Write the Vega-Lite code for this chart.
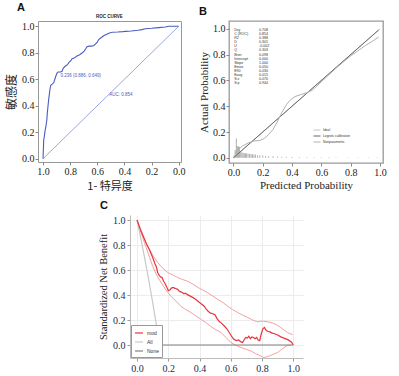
{
  "$schema": "https://vega.github.io/schema/vega-lite/v6.json",
  "background": "white",
  "padding": {"left": 5, "top": 1, "right": 0, "bottom": 0},
  "config": {
    "view": {"stroke": null},
    "axis": {"grid": false, "tickCount": 10, "labelOverlap": false, "labelFont": "Liberation Serif", "labelFontSize": 10, "labelColor": "#222", "titleFont": "Liberation Serif", "titleFontSize": 11, "titleFontWeight": "normal", "titleColor": "#222", "tickColor": "#888", "tickSize": 3, "labelPadding": 1, "domain": false},
    "title": {"font": "Liberation Sans", "fontSize": 11, "fontWeight": "bold", "anchor": "start", "frame": "group", "color": "#111"}
  },
  "resolve": {"scale": {"color": "independent"}, "legend": {"color": "independent"}},
  "vconcat": [
    {
      "resolve": {"scale": {"color": "independent"}, "legend": {"color": "independent"}},
      "hconcat": [
        {
          "width": 143, "height": 141,
          "view": {"stroke": "#999", "strokeWidth": 1},
          "title": {"text": "A", "dx": -21, "offset": 1},
          "layer": [
            {
              "data": {"values": [
                {"x": 1.0, "y": 0.0}, {"x": 0.997, "y": 0.08}, {"x": 0.995, "y": 0.14}, {"x": 0.99, "y": 0.17}, {"x": 0.985, "y": 0.21}, {"x": 0.978, "y": 0.25}, {"x": 0.972, "y": 0.29}, {"x": 0.968, "y": 0.35}, {"x": 0.963, "y": 0.40}, {"x": 0.958, "y": 0.45}, {"x": 0.953, "y": 0.49}, {"x": 0.948, "y": 0.53}, {"x": 0.943, "y": 0.555}, {"x": 0.93, "y": 0.565}, {"x": 0.921, "y": 0.575}, {"x": 0.913, "y": 0.60}, {"x": 0.905, "y": 0.625}, {"x": 0.898, "y": 0.645}, {"x": 0.889, "y": 0.655}, {"x": 0.87, "y": 0.655}, {"x": 0.86, "y": 0.66}, {"x": 0.85, "y": 0.685}, {"x": 0.835, "y": 0.70}, {"x": 0.82, "y": 0.71}, {"x": 0.81, "y": 0.725}, {"x": 0.795, "y": 0.74}, {"x": 0.786, "y": 0.755}, {"x": 0.77, "y": 0.76}, {"x": 0.75, "y": 0.775}, {"x": 0.73, "y": 0.785}, {"x": 0.71, "y": 0.80}, {"x": 0.695, "y": 0.815}, {"x": 0.685, "y": 0.83}, {"x": 0.676, "y": 0.845}, {"x": 0.66, "y": 0.85}, {"x": 0.64, "y": 0.85}, {"x": 0.625, "y": 0.855}, {"x": 0.614, "y": 0.865}, {"x": 0.6, "y": 0.88}, {"x": 0.59, "y": 0.90}, {"x": 0.57, "y": 0.915}, {"x": 0.55, "y": 0.93}, {"x": 0.53, "y": 0.94}, {"x": 0.51, "y": 0.95}, {"x": 0.49, "y": 0.955}, {"x": 0.45, "y": 0.957}, {"x": 0.41, "y": 0.96}, {"x": 0.39, "y": 0.962}, {"x": 0.35, "y": 0.965}, {"x": 0.3, "y": 0.97}, {"x": 0.27, "y": 0.975}, {"x": 0.246, "y": 0.982}, {"x": 0.2, "y": 0.985}, {"x": 0.147, "y": 0.99}, {"x": 0.1, "y": 0.995}, {"x": 0.074, "y": 1.0}, {"x": 0.0, "y": 1.0}
              ]},
              "mark": {"type": "line", "color": "#4a5cc0", "strokeWidth": 1.1},
              "encoding": {
                "x": {"field": "x", "type": "quantitative", "scale": {"domain": [-0.017, 1.037], "reverse": true, "nice": false, "zero": false}, "axis": {"values": [0, 0.2, 0.4, 0.6, 0.8, 1.0], "tickCount": 10, "format": ".1f", "title": "1- 特异度", "titleFont": "Noto Sans CJK SC", "titleFontSize": 11, "titlePadding": 4}},
                "y": {"field": "y", "type": "quantitative", "scale": {"domain": [-0.025, 1.04], "nice": false, "zero": false}, "axis": {"values": [0, 0.2, 0.4, 0.6, 0.8, 1.0], "tickCount": 10, "format": ".1f", "title": "敏感度", "titleFont": "Noto Sans CJK SC", "titleFontSize": 12, "titlePadding": 3}}
              }
            },
            {
              "data": {"values": [{"x": 1.0, "y": 0.0}, {"x": 0.0, "y": 1.0}]},
              "mark": {"type": "line", "color": "#6f7fd0", "strokeWidth": 0.7},
              "encoding": {"x": {"field": "x", "type": "quantitative"}, "y": {"field": "y", "type": "quantitative"}}
            },
            {
              "data": {"values": [
                {"x": 0.872, "y": 0.627, "t": "0.236 (0.886, 0.649)"},
                {"x": 0.511, "y": 0.48, "t": "AUC: 0.854"}
              ]},
              "mark": {"type": "text", "align": "left", "baseline": "middle", "fontSize": 4.5, "font": "Liberation Sans", "color": "#4a5cc0"},
              "encoding": {"x": {"field": "x", "type": "quantitative"}, "y": {"field": "y", "type": "quantitative"}, "text": {"field": "t", "type": "nominal"}}
            },
            {
              "data": {"values": [{"x": 0.511, "y": 1.072, "t": "ROC CURVE"}]},
              "mark": {"type": "text", "align": "center", "baseline": "middle", "fontSize": 4.5, "fontWeight": "bold", "font": "Liberation Sans", "color": "#222"},
              "encoding": {"x": {"field": "x", "type": "quantitative"}, "y": {"field": "y", "type": "quantitative"}, "text": {"field": "t", "type": "nominal"}}
            }
          ]
        },
        {
          "width": 154, "height": 142,
          "view": {"stroke": "#999", "strokeWidth": 1.3},
          "title": {"text": "B", "dx": -30, "offset": 4},
          "resolve": {"scale": {"color": "independent"}},
          "layer": [
            {
              "data": {"values": [
                {"x": 0.005, "h": 0.02}, {"x": 0.012, "h": 0.06}, {"x": 0.02, "h": 0.15}, {"x": 0.027, "h": 0.09}, {"x": 0.034, "h": 0.09}, {"x": 0.041, "h": 0.085}, {"x": 0.05, "h": 0.05}, {"x": 0.058, "h": 0.04}, {"x": 0.066, "h": 0.04}, {"x": 0.074, "h": 0.035}, {"x": 0.082, "h": 0.035}, {"x": 0.09, "h": 0.035}, {"x": 0.1, "h": 0.033}, {"x": 0.11, "h": 0.03}, {"x": 0.12, "h": 0.03}, {"x": 0.13, "h": 0.028}, {"x": 0.14, "h": 0.025}, {"x": 0.15, "h": 0.025}, {"x": 0.165, "h": 0.02}, {"x": 0.18, "h": 0.02}, {"x": 0.2, "h": 0.018}, {"x": 0.22, "h": 0.015}, {"x": 0.24, "h": 0.012}, {"x": 0.27, "h": 0.012}, {"x": 0.3, "h": 0.01}, {"x": 0.33, "h": 0.008}, {"x": 0.36, "h": 0.008}, {"x": 0.4, "h": 0.006}, {"x": 0.45, "h": 0.005}, {"x": 0.5, "h": 0.005}, {"x": 0.55, "h": 0.004}, {"x": 0.6, "h": 0.004}, {"x": 0.65, "h": 0.004}, {"x": 0.7, "h": 0.003}, {"x": 0.78, "h": 0.003}, {"x": 0.85, "h": 0.003}, {"x": 0.92, "h": 0.003}, {"x": 0.98, "h": 0.003}
              ]},
              "mark": {"type": "rule", "color": "#999", "strokeWidth": 0.8},
              "encoding": {
                "x": {"field": "x", "type": "quantitative", "scale": {"domain": [-0.03, 1.02], "nice": false, "zero": false}, "axis": {"values": [0, 0.2, 0.4, 0.6, 0.8, 1.0], "tickCount": 10, "format": ".1f", "title": "Predicted Probability", "titlePadding": 2}},
                "y": {"field": "h", "type": "quantitative", "scale": {"domain": [-0.04, 1.06], "nice": false, "zero": false}, "axis": {"values": [0, 0.2, 0.4, 0.6, 0.8, 1.0], "tickCount": 10, "format": ".1f", "title": "Actual Probability", "titlePadding": 3}},
                "y2": {"datum": 0}
              }
            },
            {
              "data": {"values": [
                {"s": "Ideal", "x": 0.0, "y": 0.0}, {"s": "Ideal", "x": 1.0, "y": 1.0},
                {"s": "Logistic calibration", "x": 0.0, "y": 0.0}, {"s": "Logistic calibration", "x": 0.5, "y": 0.5}, {"s": "Logistic calibration", "x": 0.99, "y": 0.99},
                {"s": "Nonparametric", "x": 0.01, "y": 0.03}, {"s": "Nonparametric", "x": 0.03, "y": 0.06}, {"s": "Nonparametric", "x": 0.06, "y": 0.09}, {"s": "Nonparametric", "x": 0.1, "y": 0.115}, {"s": "Nonparametric", "x": 0.14, "y": 0.13}, {"s": "Nonparametric", "x": 0.18, "y": 0.135}, {"s": "Nonparametric", "x": 0.21, "y": 0.15}, {"s": "Nonparametric", "x": 0.24, "y": 0.18}, {"s": "Nonparametric", "x": 0.27, "y": 0.22}, {"s": "Nonparametric", "x": 0.3, "y": 0.28}, {"s": "Nonparametric", "x": 0.33, "y": 0.35}, {"s": "Nonparametric", "x": 0.36, "y": 0.41}, {"s": "Nonparametric", "x": 0.39, "y": 0.45}, {"s": "Nonparametric", "x": 0.42, "y": 0.475}, {"s": "Nonparametric", "x": 0.46, "y": 0.49}, {"s": "Nonparametric", "x": 0.5, "y": 0.505}, {"s": "Nonparametric", "x": 0.54, "y": 0.525}, {"s": "Nonparametric", "x": 0.6, "y": 0.59}, {"s": "Nonparametric", "x": 0.7, "y": 0.695}, {"s": "Nonparametric", "x": 0.8, "y": 0.79}, {"s": "Nonparametric", "x": 0.85, "y": 0.83}, {"s": "Nonparametric", "x": 0.9, "y": 0.87}, {"s": "Nonparametric", "x": 0.95, "y": 0.905}, {"s": "Nonparametric", "x": 0.99, "y": 0.935}
              ]},
              "mark": {"type": "line", "strokeWidth": 1},
              "encoding": {
                "x": {"field": "x", "type": "quantitative"},
                "y": {"field": "y", "type": "quantitative"},
                "color": {"field": "s", "type": "nominal", "scale": {"domain": ["Ideal", "Logistic calibration", "Nonparametric"], "range": ["#c4c4c4", "#686868", "#b0b0b0"]}, "legend": {"title": null, "orient": "none", "legendX": 84, "legendY": 105, "symbolType": "stroke", "symbolSize": 49, "symbolStrokeWidth": 1, "labelFontSize": 3.3, "labelFont": "Liberation Sans", "labelColor": "#333", "rowPadding": 0, "labelOffset": 2}}
              }
            },
            {
              "data": {"values": [
                {"k": "Dxy", "v": "0.708", "y": 0.99}, {"k": "C (ROC)", "v": "0.854", "y": 0.958}, {"k": "R2", "v": "0.388", "y": 0.927}, {"k": "D", "v": "0.301", "y": 0.895}, {"k": "U", "v": "-0.002", "y": 0.863}, {"k": "Q", "v": "0.303", "y": 0.832}, {"k": "Brier", "v": "0.098", "y": 0.8}, {"k": "Intercept", "v": "0.000", "y": 0.768}, {"k": "Slope", "v": "1.000", "y": 0.737}, {"k": "Emax", "v": "0.050", "y": 0.705}, {"k": "E90", "v": "0.030", "y": 0.673}, {"k": "Eavg", "v": "0.015", "y": 0.642}, {"k": "S:z", "v": "0.070", "y": 0.61}, {"k": "S:p", "v": "0.944", "y": 0.578}
              ]},
              "mark": {"type": "text", "align": "left", "baseline": "middle", "fontSize": 3.6, "font": "Liberation Sans", "color": "#333"},
              "encoding": {"x": {"datum": 0.005}, "y": {"field": "y", "type": "quantitative"}, "text": {"field": "k", "type": "nominal"}}
            },
            {
              "data": {"values": [
                {"k": "Dxy", "v": "0.708", "y": 0.99}, {"k": "C (ROC)", "v": "0.854", "y": 0.958}, {"k": "R2", "v": "0.388", "y": 0.927}, {"k": "D", "v": "0.301", "y": 0.895}, {"k": "U", "v": "-0.002", "y": 0.863}, {"k": "Q", "v": "0.303", "y": 0.832}, {"k": "Brier", "v": "0.098", "y": 0.8}, {"k": "Intercept", "v": "0.000", "y": 0.768}, {"k": "Slope", "v": "1.000", "y": 0.737}, {"k": "Emax", "v": "0.050", "y": 0.705}, {"k": "E90", "v": "0.030", "y": 0.673}, {"k": "Eavg", "v": "0.015", "y": 0.642}, {"k": "S:z", "v": "0.070", "y": 0.61}, {"k": "S:p", "v": "0.944", "y": 0.578}
              ]},
              "mark": {"type": "text", "align": "left", "baseline": "middle", "fontSize": 3.6, "font": "Liberation Sans", "color": "#333"},
              "encoding": {"x": {"datum": 0.175}, "y": {"field": "y", "type": "quantitative"}, "text": {"field": "v", "type": "nominal"}}
            }
          ]
        }
      ],
      "spacing": 11
    },
    {
      "resolve": {"scale": {"color": "independent"}, "legend": {"color": "independent"}},
      "hconcat": [
        {"width": 60, "height": 1, "data": {"values": [{"a": 1}]}, "mark": {"type": "text", "text": ""}, "encoding": {"x": {"value": 0}, "y": {"value": 0}}},
        {
          "width": 173, "height": 143,
          "title": {"text": "C", "dx": -30, "offset": 4},
          "layer": [
            {
              "data": {"values": [
                {"b": "upper", "x": 0, "y": 1}, {"b": "upper", "x": 0.03, "y": 0.89}, {"b": "upper", "x": 0.068, "y": 0.79}, {"b": "upper", "x": 0.1, "y": 0.72}, {"b": "upper", "x": 0.132, "y": 0.66}, {"b": "upper", "x": 0.16, "y": 0.62}, {"b": "upper", "x": 0.196, "y": 0.58}, {"b": "upper", "x": 0.23, "y": 0.56}, {"b": "upper", "x": 0.26, "y": 0.54}, {"b": "upper", "x": 0.29, "y": 0.525}, {"b": "upper", "x": 0.324, "y": 0.51}, {"b": "upper", "x": 0.36, "y": 0.485}, {"b": "upper", "x": 0.39, "y": 0.46}, {"b": "upper", "x": 0.42, "y": 0.44}, {"b": "upper", "x": 0.45, "y": 0.42}, {"b": "upper", "x": 0.48, "y": 0.395}, {"b": "upper", "x": 0.516, "y": 0.365}, {"b": "upper", "x": 0.55, "y": 0.34}, {"b": "upper", "x": 0.58, "y": 0.31}, {"b": "upper", "x": 0.61, "y": 0.285}, {"b": "upper", "x": 0.644, "y": 0.26}, {"b": "upper", "x": 0.675, "y": 0.24}, {"b": "upper", "x": 0.708, "y": 0.22}, {"b": "upper", "x": 0.74, "y": 0.2}, {"b": "upper", "x": 0.77, "y": 0.185}, {"b": "upper", "x": 0.79, "y": 0.19}, {"b": "upper", "x": 0.81, "y": 0.19}, {"b": "upper", "x": 0.84, "y": 0.185}, {"b": "upper", "x": 0.868, "y": 0.175}, {"b": "upper", "x": 0.895, "y": 0.16}, {"b": "upper", "x": 0.92, "y": 0.14}, {"b": "upper", "x": 0.945, "y": 0.115}, {"b": "upper", "x": 0.964, "y": 0.1}, {"b": "upper", "x": 0.98, "y": 0.09}, {"b": "upper", "x": 0.996, "y": 0.085},
                {"b": "lower", "x": 0, "y": 1}, {"b": "lower", "x": 0.025, "y": 0.9}, {"b": "lower", "x": 0.047, "y": 0.82}, {"b": "lower", "x": 0.075, "y": 0.72}, {"b": "lower", "x": 0.1, "y": 0.63}, {"b": "lower", "x": 0.125, "y": 0.56}, {"b": "lower", "x": 0.154, "y": 0.5}, {"b": "lower", "x": 0.185, "y": 0.44}, {"b": "lower", "x": 0.217, "y": 0.39}, {"b": "lower", "x": 0.25, "y": 0.35}, {"b": "lower", "x": 0.28, "y": 0.31}, {"b": "lower", "x": 0.31, "y": 0.285}, {"b": "lower", "x": 0.345, "y": 0.26}, {"b": "lower", "x": 0.38, "y": 0.23}, {"b": "lower", "x": 0.41, "y": 0.205}, {"b": "lower", "x": 0.44, "y": 0.18}, {"b": "lower", "x": 0.47, "y": 0.15}, {"b": "lower", "x": 0.5, "y": 0.125}, {"b": "lower", "x": 0.537, "y": 0.1}, {"b": "lower", "x": 0.57, "y": 0.06}, {"b": "lower", "x": 0.6, "y": 0.02}, {"b": "lower", "x": 0.63, "y": 0.0}, {"b": "lower", "x": 0.665, "y": -0.02}, {"b": "lower", "x": 0.7, "y": -0.035}, {"b": "lower", "x": 0.73, "y": -0.048}, {"b": "lower", "x": 0.76, "y": -0.07}, {"b": "lower", "x": 0.793, "y": -0.088}, {"b": "lower", "x": 0.81, "y": -0.1}, {"b": "lower", "x": 0.83, "y": -0.095}, {"b": "lower", "x": 0.857, "y": -0.083}, {"b": "lower", "x": 0.88, "y": -0.07}, {"b": "lower", "x": 0.9, "y": -0.06}, {"b": "lower", "x": 0.92, "y": -0.04}, {"b": "lower", "x": 0.94, "y": -0.02}, {"b": "lower", "x": 0.96, "y": -0.005}, {"b": "lower", "x": 0.985, "y": 0.0}
              ]},
              "mark": {"type": "line", "color": "#f4a0a0", "strokeWidth": 1, "clip": true},
              "encoding": {
                "x": {"field": "x", "type": "quantitative", "scale": {"domain": [-0.045, 1.062], "nice": false, "zero": false}, "axis": {"values": [0, 0.2, 0.4, 0.6, 0.8, 1.0], "tickCount": 10, "format": ".1f", "grid": true, "gridColor": "#ececec", "domain": true, "domainColor": "#bbb", "tickColor": "#999", "labelColor": "#1e2a48", "labelPadding": 2, "title": null}},
                "y": {"field": "y", "type": "quantitative", "scale": {"domain": [-0.104, 1.04], "nice": false, "zero": false}, "axis": {"values": [0, 0.2, 0.4, 0.6, 0.8, 1.0], "tickCount": 10, "format": ".1f", "grid": true, "gridColor": "#ececec", "domain": true, "domainColor": "#bbb", "tickColor": "#999", "labelColor": "#1e2a48", "labelPadding": 2, "title": "Standardized Net Benefit", "titleFontSize": 10.5, "titlePadding": 4}},
                "detail": {"field": "b", "type": "nominal"}
              }
            },
            {
              "data": {"values": [
                {"s": "None", "x": 0, "y": 0}, {"s": "None", "x": 1.0, "y": 0},
                {"s": "All", "x": 0, "y": 1.0}, {"s": "All", "x": 0.02, "y": 0.879}, {"s": "All", "x": 0.04, "y": 0.753}, {"s": "All", "x": 0.06, "y": 0.621}, {"s": "All", "x": 0.08, "y": 0.484}, {"s": "All", "x": 0.1, "y": 0.341}, {"s": "All", "x": 0.12, "y": 0.191}, {"s": "All", "x": 0.14, "y": 0.035}, {"s": "All", "x": 0.155, "y": -0.088}, {"s": "All", "x": 0.16, "y": -0.13},
                {"s": "mod", "x": 0, "y": 1.0}, {"s": "mod", "x": 0.02, "y": 0.93}, {"s": "mod", "x": 0.04, "y": 0.87}, {"s": "mod", "x": 0.06, "y": 0.81}, {"s": "mod", "x": 0.08, "y": 0.76}, {"s": "mod", "x": 0.1, "y": 0.70}, {"s": "mod", "x": 0.115, "y": 0.65}, {"s": "mod", "x": 0.125, "y": 0.62}, {"s": "mod", "x": 0.132, "y": 0.58}, {"s": "mod", "x": 0.14, "y": 0.56}, {"s": "mod", "x": 0.15, "y": 0.545}, {"s": "mod", "x": 0.16, "y": 0.54}, {"s": "mod", "x": 0.17, "y": 0.51}, {"s": "mod", "x": 0.18, "y": 0.49}, {"s": "mod", "x": 0.19, "y": 0.465}, {"s": "mod", "x": 0.2, "y": 0.435}, {"s": "mod", "x": 0.21, "y": 0.44}, {"s": "mod", "x": 0.22, "y": 0.455}, {"s": "mod", "x": 0.23, "y": 0.46}, {"s": "mod", "x": 0.24, "y": 0.455}, {"s": "mod", "x": 0.25, "y": 0.45}, {"s": "mod", "x": 0.26, "y": 0.445}, {"s": "mod", "x": 0.27, "y": 0.43}, {"s": "mod", "x": 0.28, "y": 0.425}, {"s": "mod", "x": 0.29, "y": 0.42}, {"s": "mod", "x": 0.3, "y": 0.41}, {"s": "mod", "x": 0.31, "y": 0.415}, {"s": "mod", "x": 0.32, "y": 0.405}, {"s": "mod", "x": 0.335, "y": 0.395}, {"s": "mod", "x": 0.35, "y": 0.385}, {"s": "mod", "x": 0.37, "y": 0.37}, {"s": "mod", "x": 0.39, "y": 0.35}, {"s": "mod", "x": 0.41, "y": 0.33}, {"s": "mod", "x": 0.43, "y": 0.31}, {"s": "mod", "x": 0.44, "y": 0.29}, {"s": "mod", "x": 0.455, "y": 0.27}, {"s": "mod", "x": 0.47, "y": 0.255}, {"s": "mod", "x": 0.485, "y": 0.25}, {"s": "mod", "x": 0.5, "y": 0.24}, {"s": "mod", "x": 0.51, "y": 0.215}, {"s": "mod", "x": 0.525, "y": 0.19}, {"s": "mod", "x": 0.54, "y": 0.175}, {"s": "mod", "x": 0.56, "y": 0.15}, {"s": "mod", "x": 0.575, "y": 0.13}, {"s": "mod", "x": 0.59, "y": 0.1}, {"s": "mod", "x": 0.6, "y": 0.08}, {"s": "mod", "x": 0.61, "y": 0.06}, {"s": "mod", "x": 0.62, "y": 0.045}, {"s": "mod", "x": 0.635, "y": 0.035}, {"s": "mod", "x": 0.65, "y": 0.04}, {"s": "mod", "x": 0.665, "y": 0.025}, {"s": "mod", "x": 0.675, "y": 0.02}, {"s": "mod", "x": 0.685, "y": 0.04}, {"s": "mod", "x": 0.695, "y": 0.06}, {"s": "mod", "x": 0.705, "y": 0.055}, {"s": "mod", "x": 0.715, "y": 0.07}, {"s": "mod", "x": 0.725, "y": 0.05}, {"s": "mod", "x": 0.735, "y": 0.065}, {"s": "mod", "x": 0.745, "y": 0.06}, {"s": "mod", "x": 0.755, "y": 0.05}, {"s": "mod", "x": 0.765, "y": 0.06}, {"s": "mod", "x": 0.775, "y": 0.04}, {"s": "mod", "x": 0.785, "y": 0.035}, {"s": "mod", "x": 0.795, "y": 0.09}, {"s": "mod", "x": 0.805, "y": 0.13}, {"s": "mod", "x": 0.815, "y": 0.14}, {"s": "mod", "x": 0.825, "y": 0.12}, {"s": "mod", "x": 0.835, "y": 0.11}, {"s": "mod", "x": 0.85, "y": 0.105}, {"s": "mod", "x": 0.865, "y": 0.095}, {"s": "mod", "x": 0.88, "y": 0.09}, {"s": "mod", "x": 0.9, "y": 0.08}, {"s": "mod", "x": 0.92, "y": 0.065}, {"s": "mod", "x": 0.94, "y": 0.055}, {"s": "mod", "x": 0.96, "y": 0.045}, {"s": "mod", "x": 0.975, "y": 0.035}, {"s": "mod", "x": 0.99, "y": 0.02}, {"s": "mod", "x": 1.0, "y": 0.0}
              ]},
              "mark": {"type": "line", "strokeWidth": 1.2, "clip": true},
              "encoding": {
                "x": {"field": "x", "type": "quantitative"},
                "y": {"field": "y", "type": "quantitative"},
                "color": {"field": "s", "type": "nominal", "sort": null, "scale": {"domain": ["mod", "All", "None"], "range": ["#e8343e", "#c8c8c8", "#808080"]}, "legend": {"title": null, "orient": "bottom-left", "offset": 1, "fillColor": "white", "strokeColor": "#999", "padding": 3, "symbolType": "stroke", "symbolSize": 64, "symbolStrokeWidth": 1.2, "labelFontSize": 5, "labelFont": "Liberation Sans", "labelColor": "#333", "rowPadding": 1, "labelOffset": 3}}
              }
            }
          ]
        }
      ],
      "spacing": 0
    }
  ],
  "spacing": 8
}
